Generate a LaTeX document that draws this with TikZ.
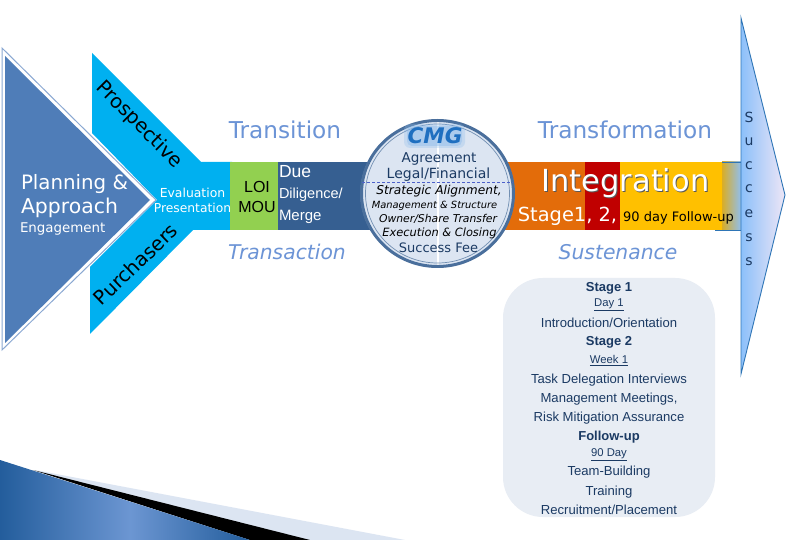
\documentclass[tikz,border=0pt]{standalone}
\usepackage{fontspec}
\setmainfont{DejaVu Sans}
\newfontfamily\arialf{Liberation Sans}
\usetikzlibrary{calc}
\definecolor{funnel}{HTML}{00B0F0}
\definecolor{lime}{HTML}{92D050}
\definecolor{navy}{HTML}{365F91}
\definecolor{orangeb}{HTML}{E36C0A}
\definecolor{redb}{HTML}{C00000}
\definecolor{goldb}{HTML}{FFC000}
\definecolor{headc}{HTML}{6C94D6}
\definecolor{darkt}{HTML}{1B3A63}
\definecolor{panel}{HTML}{E8EDF4}
\definecolor{disc}{HTML}{DCE5F2}
\definecolor{tri}{HTML}{4F7DB8}
\definecolor{triedge}{HTML}{8AA8D2}
\definecolor{cornerd}{HTML}{235D9C}
\definecolor{cornerl}{HTML}{6C96D2}
\definecolor{arrowl}{HTML}{8CC0FA}
\definecolor{arrowr}{HTML}{EEE6F6}
\definecolor{arrowe}{HTML}{2E75B6}
\definecolor{cmgc}{HTML}{1F6FC0}
\definecolor{glow}{HTML}{8FBDEB}
\newcommand{\fs}[1]{\fontsize{#1}{#1}\selectfont}
\tikzset{
  txt/.style={inner sep=0pt,outer sep=0pt,align=center,anchor=center},
  whitet/.style={txt,text=white},
  head/.style={txt,text=headc,font=\fs{23.2}},
  headi/.style={txt,text=headc,font=\fs{20.3}\itshape},
  disct/.style={txt,text=darkt},
  listt/.style={txt,text=darkt,font=\arialf\fs{13.1}},
  listb/.style={txt,text=darkt,font=\arialf\bfseries\fs{13}},
  listu/.style={txt,text=darkt,font=\arialf\fs{11.3}},
  succ/.style={txt,text=darkt,font=\fs{14}}
}
\begin{document}
\begin{tikzpicture}[x=1pt,y=-1pt]
\useasboundingbox (0,0) rectangle (796,540);
\fill[white] (0,0) rectangle (796,540);
% bottom corner
\fill[disc] (35,470) -- (405,540) -- (250,540) -- cycle;
\fill[black] (33,470) -- (310,540) -- (250,540) -- cycle;
\begin{scope}
  \clip (0,460) -- (250,540) -- (0,540) -- cycle;
  \shade[left color=cornerd,right color=cornerl] (0,455) rectangle (130,541);
  \shade[left color=cornerl,right color=cornerd] (130,455) rectangle (250,541);
\end{scope}
% funnel
\fill[funnel] (92,53) -- (201,162) -- (232,162) -- (232,230) -- (193,230) -- (90,334) -- (90,267) -- (157,200) -- (92,133) -- cycle;
% big triangle
\fill[white,draw=triedge,line width=1pt] (2,48) -- (156,200) -- (2,350) -- cycle;
\fill[tri] (5,56) -- (150,200) -- (5,343) -- cycle;
% bands
\fill[lime] (230,162) rectangle (278,230);
\fill[navy] (278,162) rectangle (372,230);
\fill[orangeb] (505,162) rectangle (585,230);
\fill[redb] (585,162) rectangle (620,230);
\fill[goldb] (620,162) rectangle (722,230);
\shade[left color=goldb!70!gray,right color=arrowl] (722,162) rectangle (742,230);
% success arrow
\shade[left color=arrowl,right color=arrowr] (741,18) -- (785,195) -- (741,374) -- cycle;
\draw[arrowe,line width=.9pt] (741,18) -- (785,195) -- (741,374) -- cycle;
\coordinate (ua) at (722,162); \coordinate (ub) at (741,162);
\coordinate (la) at (715,230); \coordinate (lb) at (741,230);
\draw[arrowe,line width=.8pt] (ua) -- (ub) (la) -- (lb);
% circle
\fill[disc] (437.5,193.5) ellipse (77 and 74);
\fill[white] (436.5,120) rectangle (439,267);
\draw[navy!90!white,line width=3pt] (437.5,193.5) ellipse (76 and 73);
\draw[navy!70!white,line width=.7pt] (437.5,193.5) ellipse (72 and 69.5);
\coordinate (dl) at (362,182); \coordinate (dr) at (513,182);
\draw[navy!60!blue!80!white,line width=.7pt,dash pattern=on 3pt off 2pt] (dl) -- (dr);
\fill[glow,rounded corners=6pt,opacity=.3] (404,124) rectangle (465,148);
\fill[glow,rounded corners=5pt,opacity=.45] (407,126) rectangle (462,146);
% panel
\fill[panel,rounded corners=40pt] (503,278) rectangle (715,517);
% text
\node[whitet,anchor=west,font=\fs{19.8}] (plan) at (21,184) {Planning \&};
\node[whitet,anchor=west,font=\fs{20.4}] (appr) at (21,208) {Approach};
\node[whitet,anchor=west,font=\fs{13.4}] (eng) at (20,229) {Engagement};
\node[whitet,font=\fs{12.4}] (eva) at (192.5,193) {Evaluation};
\node[whitet,font=\fs{12.3}] (pre) at (192.5,208) {Presentation};
\node[txt,text=black,font=\fs{19.6},rotate=-45] (pros) at (139,125) {Prospective};
\node[txt,text=black,font=\fs{19.6},rotate=44] (purch) at (135.5,264) {Purchasers};
\node[txt,text=black,font=\arialf\fs{16}] (loi) at (257,187) {LOI};
\node[txt,text=black,font=\arialf\fs{16}] (mou) at (257,206.5) {MOU};
\node[whitet,anchor=west,font=\arialf\fs{17.5}] (due) at (279,172) {Due};
\node[whitet,anchor=west,font=\arialf\fs{14.5}] (dil) at (279,195) {Diligence/};
\node[whitet,anchor=west,font=\arialf\fs{15}] (mer) at (279,217) {Merge};
\node[head] (trans) at (285,130) {Transition};
\node[headi] (tact) at (287,252) {Transaction};
\node[head] (tform) at (625,130) {Transformation};
\node[headi] (sust) at (618,252) {Sustenance};
\node[txt,text=cmgc,font=\bfseries\itshape\fs{21.5}] (cmg) at (435,136) {CMG};
\node[disct,font=\fs{13.5}] (agr) at (439,159) {Agreement};
\node[disct,font=\fs{14}] (leg) at (438.5,175) {Legal/Financial};
\node[txt,text=black,font=\itshape\fs{12.2}] (str) at (439,191) {Strategic Alignment,};
\node[txt,text=black,font=\itshape\fs{9.9}] (man) at (434.5,206) {Management \& Structure};
\node[txt,text=black,font=\itshape\fs{10.8}] (own) at (438,219) {Owner/Share Transfer};
\node[txt,text=black,font=\itshape\fs{11.4}] (exe) at (439.5,233) {Execution \& Closing};
\node[disct,font=\fs{13}] (suc) at (438.5,248) {Success Fee};
\node[txt,text=black!65,font=\fs{30.4}] (ints) at (626.5,184.5) {Integration};
\node[whitet,font=\fs{30.4}] (int) at (625.5,183) {Integration};
\node[whitet,font=\fs{19.4}] (sta) at (567.5,216) {Stage1, 2,};
\node[txt,text=black,font=\fs{13}] (day) at (678.5,218) {90 day Follow-up};
\foreach \n/\c/\y in {s1/S/117,s2/u/142,s3/c/166,s4/c/189,s5/e/214,s6/s/238,s7/s/262}
  \node[succ] (\n) at (749,\y) {\c};
\node[listb] (l1) at (609,288) {Stage 1};
\node[listu] (l2) at (609,304.5) {\underline{Day 1}};
\node[listt] (l3) at (609,322.5) {Introduction/Orientation};
\node[listb] (l4) at (609,342) {Stage 2};
\node[listu] (l5) at (609,360.5) {\underline{Week 1}};
\node[listt] (l6) at (609,380.5) {Task Delegation Interviews};
\node[listt] (l7) at (609,399) {Management Meetings,};
\node[listt] (l8) at (609,418.5) {Risk Mitigation Assurance};
\node[listb] (l9) at (609,437.5) {Follow-up};
\node[listu] (l10) at (609,454.5) {\underline{90 Day}};
\node[listt] (l11) at (609,472.5) {Team-Building};
\node[listt] (l12) at (609,492.5) {Training};
\node[listt] (l13) at (609,509.5) {Recruitment/Placement};
\end{tikzpicture}
\end{document}
